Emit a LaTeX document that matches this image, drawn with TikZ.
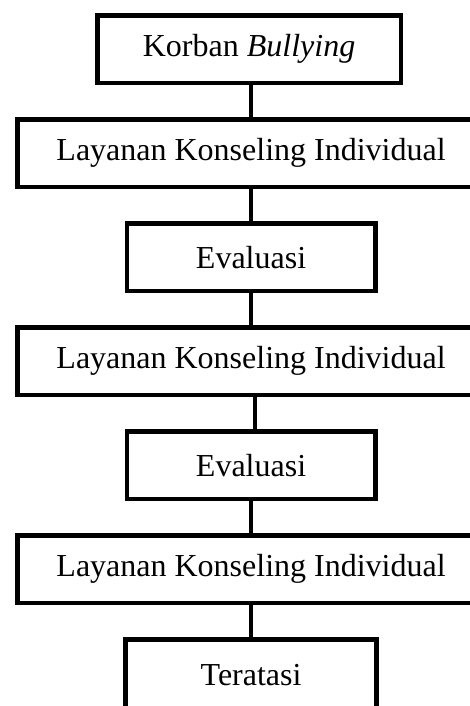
\documentclass[tikz,border=0pt]{standalone}
\usepackage{fontspec}
\setmainfont{Liberation Serif}
\usetikzlibrary{positioning}

\begin{document}
\begin{tikzpicture}[line/.style = {line width=1.7pt}, node distance=12pt]
		\tikzset{box/.style={draw,rectangle,line width=1.7pt,inner sep=0pt,align=center,minimum height=25.3pt,font=\fontsize{12}{14}\selectfont}}
		\tikzset{wide/.style={box,minimum width=175.3pt}}
		\tikzset{narrow/.style={box,minimum width=93.2pt}}

		\clip (0,0) rectangle (176.25pt,-264.75pt);

		% Boxes
		\node[box, minimum width=113.8pt] (korban) at (93.4pt,-18.4pt) {Korban \textit{Bullying}};

		\node[wide, below=of korban, xshift=0.75pt] (layanan1) {Layanan Konseling Individual};

		\node[narrow, below=of layanan1] (evaluasi1) {Evaluasi};

		\node[wide, below=of evaluasi1] (layanan2) {Layanan Konseling Individual};

		\node[narrow, below=of layanan2] (evaluasi2) {Evaluasi};

		\node[wide, below=of evaluasi2] (layanan3) {Layanan Konseling Individual};

		\node[narrow, minimum width=94pt, minimum height=27pt, below=of layanan3] (teratasi) {Teratasi};

		% Lines
		\draw [line] (korban.south -| layanan1) -- (layanan1.north);
		\draw [line] (layanan1) -- (evaluasi1);
		\draw [line] (evaluasi1) -- (layanan2);
		\draw [line] ([xshift=1.5pt]layanan2.south) -- ([xshift=1.5pt]evaluasi2.north);
		\draw [line] (evaluasi2) -- (layanan3);
		\draw [line] (layanan3.south) -- (teratasi.north);

	\end{tikzpicture}
\end{document}
